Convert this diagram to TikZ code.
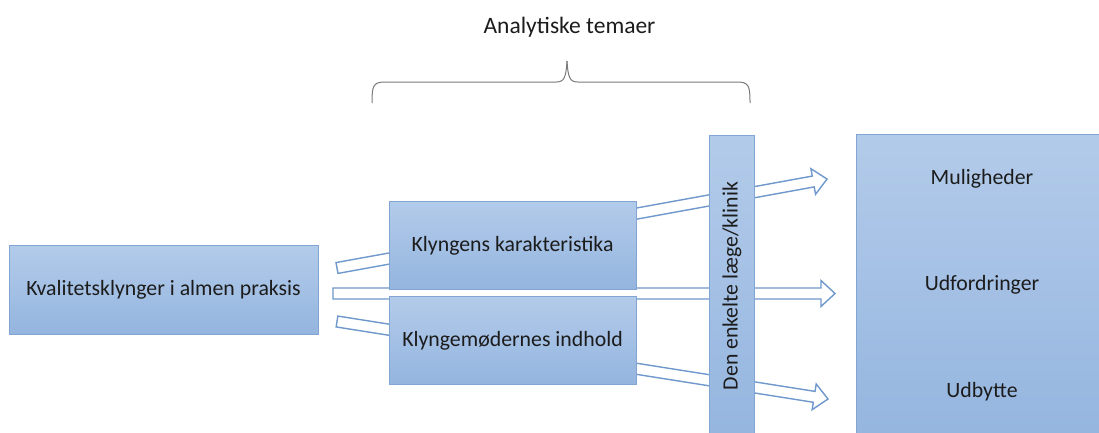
\documentclass[tikz,border=0pt]{standalone}
\usepackage{fontspec}
\setmainfont{Carlito}
\usetikzlibrary{calc}
\definecolor{boxtop}{HTML}{B3CBEA}
\definecolor{boxbot}{HTML}{94B5DF}
\definecolor{boxline}{HTML}{82A5D2}
\definecolor{arrline}{HTML}{6F98CC}
\definecolor{txt}{HTML}{1C1C1C}
\definecolor{brace}{HTML}{7A7A7A}
\newcommand\blockarrow[2]{%
  \coordinate (hb) at ($(#2)!14pt!(#1)$);
  \filldraw[arrowbody]
    ($(#1)!5.5pt!90:(#2)$) -- ($(hb)!5.5pt!90:(#2)$) -- ($(hb)!13pt!90:(#2)$) --
    (#2) -- ($(hb)!13pt!-90:(#2)$) -- ($(hb)!5.5pt!-90:(#2)$) --
    ($(#1)!5.5pt!-90:(#2)$) -- cycle;}
\begin{document}
\begin{tikzpicture}[x=1pt,y=-1pt,
  box/.style={draw=boxline, line width=1pt, top color=boxtop, bottom color=boxbot},
  arrowbody/.style={draw=arrline, fill=white, line width=1.4pt, line join=miter},
  lbl/.style={text=txt, font=\fontsize{21.8}{24}\selectfont, inner sep=0pt}]
\clip (0,0) rectangle (1099,432);
\fill[white] (0,0) rectangle (1099,432);
% title and brace
\node[lbl, font=\fontsize{23.5}{26}\selectfont] (title) at (569.5,27) {Analytiske temaer};
\draw[brace, line width=1pt]
  (372,103) .. controls (372,86) and (373,82) .. (385,82) -- (556,82)
  .. controls (564,82) and (566,78) .. (567,61);
\draw[brace, line width=1pt]
  (750,103) .. controls (750,86) and (749,82) .. (737,82) -- (578,82)
  .. controls (570,82) and (568,78) .. (567,61);
% arrow end points
\coordinate (s1) at (337,268);
\coordinate (e1) at (827,179);
\coordinate (s2) at (333,293.5);
\coordinate (e2) at (835,293.5);
\coordinate (s3) at (337,321.5);
\coordinate (e3) at (828,399);
\blockarrow{s1}{e1}
\blockarrow{s2}{e2}
\blockarrow{s3}{e3}
% boxes
\draw[box] (9,245) rectangle (318,334);
\node[lbl] (kval) at (163.5,290) {Kvalitetsklynger i almen praksis};
\draw[box] (389,201) rectangle (636,289);
\node[lbl] (kar) at (512.5,246) {Klyngens karakteristika};
\draw[box] (389,296) rectangle (636,384);
\node[lbl] (ind) at (512.5,341) {Klyngemødernes indhold};
\draw[box] (709.5,135) rectangle (754,445);
\node[lbl, rotate=90] (bar) at (732,286) {Den enkelte læge/klinik};
\draw[box] (856,134) rectangle (1110,445);
\node[lbl] (mul) at (982,179) {Muligheder};
\node[lbl] (udf) at (982,285) {Udfordringer};
\node[lbl] (udb) at (982,392) {Udbytte};
\end{tikzpicture}
\end{document}
